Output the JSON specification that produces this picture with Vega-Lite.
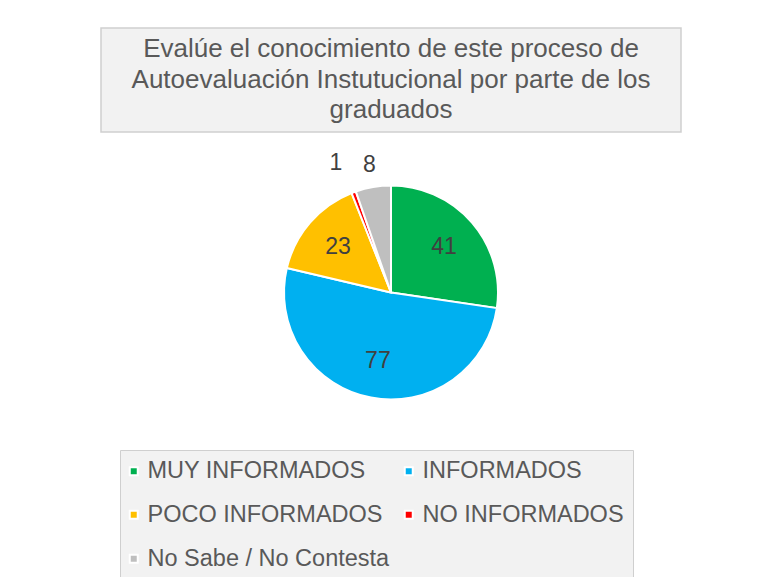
{
  "$schema": "https://vega.github.io/schema/vega-lite/v6.json",
  "background": "white",
  "padding": {"left": 100, "top": 27, "right": 0, "bottom": 0},
  "spacing": 0,
  "config": {
    "font": "Liberation Sans",
    "view": {"stroke": null}
  },
  "vconcat": [
    {
      "width": 580,
      "height": 104,
      "view": {"fill": "#f2f2f2", "stroke": "#cfcfcf", "strokeWidth": 1.5},
      "data": {"values": [{"titulo": "Evalúe el conocimiento de este proceso de\nAutoevaluación Instutucional por parte de los\ngraduados"}]},
      "mark": {"type": "text", "lineBreak": "\n", "fontSize": 26, "lineHeight": 30.5, "dy": -31, "color": "#595959", "align": "center", "baseline": "middle"},
      "encoding": {"text": {"field": "titulo", "type": "nominal"}}
    },
    {
      "width": 580,
      "height": 319,
      "data": {"values": [
        {"categoria": "MUY INFORMADOS", "valor": 41, "orden": 1},
        {"categoria": "INFORMADOS", "valor": 77, "orden": 2},
        {"categoria": "POCO INFORMADOS", "valor": 23, "orden": 3},
        {"categoria": "NO INFORMADOS", "valor": 1, "orden": 4},
        {"categoria": "No Sabe / No Contesta", "valor": 8, "orden": 5}
      ]},
      "encoding": {
        "theta": {"field": "valor", "type": "quantitative", "stack": true},
        "order": {"field": "orden", "type": "quantitative"}
      },
      "layer": [
        {
          "mark": {"type": "arc", "outerRadius": 107, "stroke": "white", "strokeWidth": 2},
          "encoding": {
            "color": {
              "field": "categoria",
              "type": "nominal",
              "scale": {
                "domain": ["MUY INFORMADOS", "INFORMADOS", "POCO INFORMADOS", "NO INFORMADOS", "No Sabe / No Contesta"],
                "range": ["#00b050", "#00b0f0", "#ffc000", "#ff0000", "#bfbfbf"]
              },
              "legend": {
                "orient": "none",
                "legendX": 19,
                "legendY": 422,
                "direction": "horizontal",
                "columns": 2,
                "title": null,
                "symbolType": "square",
                "symbolSize": 64,
                "symbolStrokeColor": "white",
                "symbolStrokeWidth": 2,
                "symbolOffset": -7,
                "labelFontSize": 23.5,
                "labelColor": "#595959",
                "labelLimit": 400,
                "labelOffset": 2,
                "fillColor": "#f2f2f2",
                "strokeColor": "#cfcfcf",
                "padding": 9,
                "rowPadding": 19,
                "columnPadding": 10
              }
            }
          }
        },
        {
          "mark": {"type": "text", "radius": 70, "fontSize": 23, "color": "#404040"},
          "encoding": {
            "detail": {"field": "categoria", "type": "nominal"},
            "text": {"condition": {"test": "datum.valor > 10", "field": "valor", "type": "quantitative"}, "value": ""}
          }
        },
        {
          "mark": {"type": "text", "radius": 129, "fontSize": 23, "color": "#404040"},
          "encoding": {
            "detail": {"field": "categoria", "type": "nominal"},
            "text": {"condition": {"test": "datum.categoria === 'No Sabe / No Contesta'", "field": "valor", "type": "quantitative"}, "value": ""}
          }
        },
        {
          "mark": {"type": "text", "radius": 138, "dx": -7, "fontSize": 23, "color": "#404040"},
          "encoding": {
            "detail": {"field": "categoria", "type": "nominal"},
            "text": {"condition": {"test": "datum.categoria === 'NO INFORMADOS'", "field": "valor", "type": "quantitative"}, "value": ""}
          }
        }
      ]
    }
  ]
}
